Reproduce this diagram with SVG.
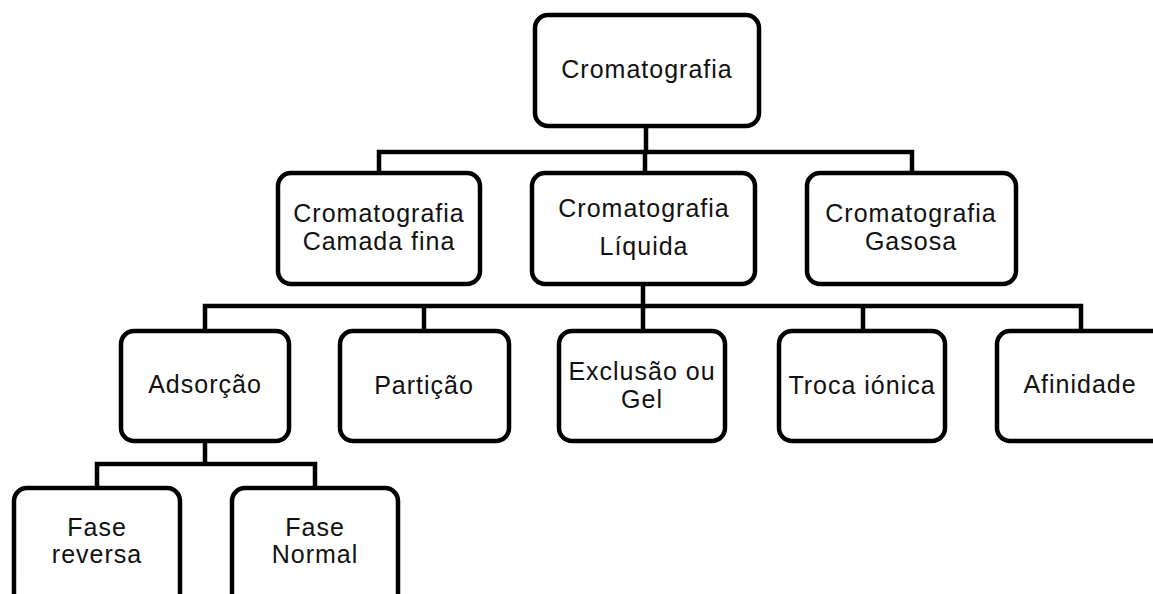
<svg xmlns="http://www.w3.org/2000/svg" width="1153" height="594" viewBox="0 0 1153 594">
<style>
.box{fill:#fff;stroke:#000;stroke-width:4.5}
.ln{fill:none;stroke:#000;stroke-width:4.5;stroke-linecap:square}
text{font-family:"Liberation Sans",Arial,sans-serif;font-size:25px;fill:#111;text-anchor:middle;letter-spacing:1px}
</style>
<rect width="1153" height="594" fill="#fff"/>
<g id="connectors">
<path class="ln" d="M646 128V152M379 152H912M379 152V171M912 152V171M645 152V171"/>
<path class="ln" d="M643 286V306M205 306H1081M205 306V329M424 306V329M643 306V329M863 306V329M1081 306V329"/>
<path class="ln" d="M205 443V464M97 464H315M97 464V486M315 464V486"/>
</g>
<g id="n-cromatografia"><rect class="box" x="535" y="15" width="224" height="111" rx="13"/><text x="647" y="78">Cromatografia</text></g>
<g id="n-camada"><rect class="box" x="278" y="173" width="202" height="111" rx="13"/><text x="379" y="222">Cromatografia</text><text x="379" y="250">Camada fina</text></g>
<g id="n-liquida"><rect class="box" x="532" y="173" width="223" height="111" rx="13"/><text x="644" y="217">Cromatografia</text><text x="644" y="255">Líquida</text></g>
<g id="n-gasosa"><rect class="box" x="807" y="173" width="209" height="111" rx="13"/><text x="911" y="222">Cromatografia</text><text x="911" y="250">Gasosa</text></g>
<g id="n-adsorcao"><rect class="box" x="121" y="331" width="168" height="110" rx="13"/><text x="205" y="393">Adsorção</text></g>
<g id="n-particao"><rect class="box" x="340" y="331" width="169" height="110" rx="13"/><text x="424" y="394">Partição</text></g>
<g id="n-exclusao"><rect class="box" x="559" y="331" width="166" height="110" rx="13"/><text x="642" y="380">Exclusão ou</text><text x="642" y="408">Gel</text></g>
<g id="n-troca"><rect class="box" x="779" y="331" width="166" height="110" rx="13"/><text x="862" y="394">Troca iónica</text></g>
<g id="n-afinidade"><rect class="box" x="997" y="331" width="170" height="110" rx="13"/><text x="1080" y="393">Afinidade</text></g>
<g id="n-fase-reversa"><rect class="box" x="14" y="488" width="166" height="125" rx="13"/><text x="97" y="536">Fase</text><text x="97" y="563">reversa</text></g>
<g id="n-fase-normal"><rect class="box" x="232" y="488" width="166" height="125" rx="13"/><text x="315" y="536">Fase</text><text x="315" y="563">Normal</text></g>
</svg>
